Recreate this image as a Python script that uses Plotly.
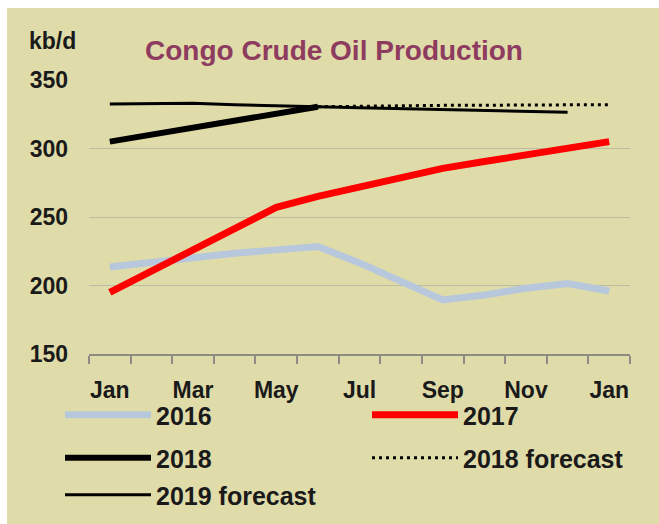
import plotly.graph_objects as go

# ---- data ----
month_labels = ["Jan", "Feb", "Mar", "Apr", "May", "Jun", "Jul",
                "Aug", "Sep", "Oct", "Nov", "Dec", "Jan"]
tick_labels = ["Jan", "Mar", "May", "Jul", "Sep", "Nov", "Jan"]

s2016 = [213.5, 217, 221, 223.5, 226, 228.5, 216.5, 203, 189.5, 193, 198, 201.5, 196]
s2017 = [195, 211, 226, 241.5, 257, 265, 272, 278, 285.5, 290.5, 295, 300, 305]
s2018 = [305, 310, 315, 320, 325, 330.5]
s2018_fc = [None, None, None, None, None, 330.5, 331, 331.3, 331.5, 331.6, 331.7, 331.8, 332]
s2019_fc = [332.5, 332.8, 333, 332, 331, 330.5, 329.8, 329.2, 328.6, 328, 327.3, 326.5]

x_all = list(range(len(month_labels)))

FONT = "Liberation Sans, Arial, sans-serif"
TXT = "#1a1a1a"

fig = go.Figure()

fig.add_trace(go.Scatter(x=x_all, y=s2016, mode="lines", name="2016",
                         line=dict(color="#B8C8DC", width=7), legend="legend"))
fig.add_trace(go.Scatter(x=x_all, y=s2017, mode="lines", name="2017",
                         line=dict(color="#FF0000", width=7), legend="legend2"))
fig.add_trace(go.Scatter(x=x_all[:len(s2018)], y=s2018, mode="lines", name="2018",
                         line=dict(color="#000000", width=6), legend="legend3"))
fig.add_trace(go.Scatter(x=x_all, y=s2018_fc, mode="lines", name="2018 forecast",
                         line=dict(color="#000000", width=3, dash="3px,4px"), legend="legend4"))
fig.add_trace(go.Scatter(x=x_all[:len(s2019_fc)], y=s2019_fc, mode="lines", name="2019 forecast",
                         line=dict(color="#000000", width=3), legend="legend5"))

L, R, T, B = 89, 29, 80, 170
W, H = 659, 524
pw, ph = W - L - R, H - T - B

def px_x(p):
    return (p - L) / pw

def px_y(p):
    return (H - B - p) / ph

def leg(xp, yp):
    return dict(orientation="v", xanchor="left", yanchor="middle",
                x=px_x(xp), y=px_y(yp),
                bgcolor="rgba(0,0,0,0)", itemwidth=86,
                font=dict(family=FONT, size=25, color=TXT, weight="bold"),
                itemclick=False, itemdoubleclick=False)

fig.update_layout(
    width=W, height=H,
    margin=dict(l=L, r=R, t=T, b=B, pad=0, autoexpand=False),
    paper_bgcolor="#FFFFFF",
    plot_bgcolor="rgba(0,0,0,0)",
    font=dict(family=FONT, size=23, color=TXT),
    title=dict(text="<b>Congo Crude Oil Production</b>",
               x=334 / W, xanchor="center", y=1 - 50 / H, yanchor="middle",
               font=dict(family=FONT, size=28, color="#8E3B60")),
    xaxis=dict(range=[-0.5, 12.5], tickmode="array",
               tickvals=[0, 2, 4, 6, 8, 10, 12], ticktext=tick_labels,
               ticks="", showgrid=False, zeroline=False,
               showline=True, linecolor="#8C8C84", linewidth=2,
               tickfont=dict(family=FONT, size=23, color=TXT, weight="bold"),
               ticklabelstandoff=14,
               minor=dict(tickmode="linear", tick0=-0.5, dtick=1, ticks="outside",
                          ticklen=8, tickcolor="#8C8C84", tickwidth=2, showgrid=False)),
    yaxis=dict(range=[150, 350], tickmode="array", tickvals=[150, 200, 250, 300, 350],
               ticks="", showgrid=True, gridcolor="#BDBBA4", gridwidth=1,
               zeroline=False, showline=False,
               tickfont=dict(family=FONT, size=23, color=TXT, weight="bold"),
               ticklabelstandoff=20),
    showlegend=True,
    legend=leg(60, 415),
    legend2=leg(367, 415),
    legend3=leg(60, 458),
    legend4=leg(367, 458),
    legend5=leg(60, 495),
    shapes=[dict(type="rect", xref="paper", yref="paper", layer="below",
                 x0=px_x(7), x1=px_x(W + 2), y0=px_y(8), y1=px_y(H + 2),
                 fillcolor="#E0DCA9", line=dict(width=0))],
    annotations=[dict(text="<b>kb/d</b>", xref="paper", yref="paper",
                      x=px_x(27), y=px_y(41), xanchor="left", yanchor="middle",
                      showarrow=False, font=dict(family=FONT, size=23, color=TXT))],
)

fig.write_html("out.html")
